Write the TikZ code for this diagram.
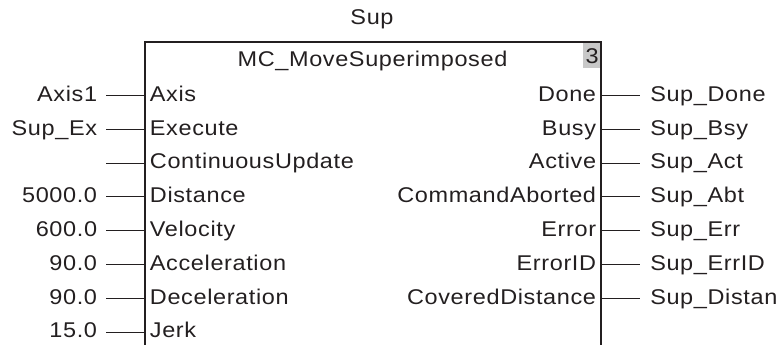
\documentclass[tikz,border=0pt]{standalone}
\usepackage{fontspec}
\setmainfont{Liberation Sans}[FakeStretch=1.1,LetterSpace=3]
\usepackage{tikz}
\usepackage{xcolor}
\definecolor{ink}{HTML}{231F20}
\definecolor{pingray}{HTML}{C8C8C8}
\tikzset{
  fbline/.style={draw=ink,line width=0.8pt},
  pinline/.style={draw=ink,line width=0.8pt},
  pintext/.style={inner ysep=0pt,text height=11.2pt,text depth=2.6pt,text=ink,
                  font=\fontsize{16}{18}\selectfont},
  inpin/.style={pintext,anchor=west,inner xsep=3.5pt},
  outpin/.style={pintext,anchor=east,inner xsep=3.5pt},
  invar/.style={pintext,anchor=east,inner xsep=6.5pt},
  outvar/.style={pintext,anchor=west,inner xsep=7.5pt},
  label/.style={pintext,inner sep=0pt}
}

\begin{document}
\begin{tikzpicture}[x=0.75pt,y=-0.75pt]
    \path[use as bounding box] (0,0) rectangle (781,345);
    % function block
    \fill[pingray] (583,42) rectangle (601,68);
    \draw[fbline] (145,345) -- (145,42) -- (601,42) -- (601,345);
    \node[label] (inst) at (372,19) {Sup};
    \node[label] (fbname) at (372.5,61) {MC\_MoveSuperimposed};
    \node[label,anchor=east] (fbno) at (599,58) {3};

    % inputs
    \node[inpin] (axis) at (145,95.5) {Axis};
    \node[inpin] (exec) at (145,129.3) {Execute};
    \node[inpin] (cont) at (145,163.1) {ContinuousUpdate};
    \node[inpin] (dist) at (145,196.9) {Distance};
    \node[inpin] (vel) at (145,230.7) {Velocity};
    \node[inpin] (acc) at (145,264.5) {Acceleration};
    \node[inpin] (dec) at (145,298.3) {Deceleration};
    \node[inpin] (jerk) at (145,332.1) {Jerk};

    \node[invar] (axisv) at (106,95.5) {Axis1};
    \node[invar] (execv) at (106,129.3) {Sup\_Ex};
    \node[invar] (contv) at (106,163.1) {};
    \node[invar] (distv) at (106,196.9) {5000.0};
    \node[invar] (velv) at (106,230.7) {600.0};
    \node[invar] (accv) at (106,264.5) {90.0};
    \node[invar] (decv) at (106,298.3) {90.0};
    \node[invar] (jerkv) at (106,332.1) {15.0};

    \draw[pinline] (axisv.east) -- (axis.west);
    \draw[pinline] (execv.east) -- (exec.west);
    \draw[pinline] (contv.east) -- (cont.west);
    \draw[pinline] (distv.east) -- (dist.west);
    \draw[pinline] (velv.east) -- (vel.west);
    \draw[pinline] (accv.east) -- (acc.west);
    \draw[pinline] (decv.east) -- (dec.west);
    \draw[pinline] (jerkv.east) -- (jerk.west);

    % outputs
    \node[outpin] (done) at (601,95.5) {Done};
    \node[outpin] (busy) at (601,129.3) {Busy};
    \node[outpin] (act) at (601,163.1) {Active};
    \node[outpin] (abt) at (601,196.9) {CommandAborted};
    \node[outpin] (err) at (601,230.7) {Error};
    \node[outpin] (errid) at (601,264.5) {ErrorID};
    \node[outpin] (cov) at (601,298.3) {CoveredDistance};

    \node[outvar] (donev) at (640,95.5) {Sup\_Done};
    \node[outvar] (busyv) at (640,129.3) {Sup\_Bsy};
    \node[outvar] (actv) at (640,163.1) {Sup\_Act};
    \node[outvar] (abtv) at (640,196.9) {Sup\_Abt};
    \node[outvar] (errv) at (640,230.7) {Sup\_Err};
    \node[outvar] (erridv) at (640,264.5) {Sup\_ErrID};
    \node[outvar] (covv) at (640,298.3) {Sup\_Distan};

    \draw[pinline] (done.east) -- (donev.west);
    \draw[pinline] (busy.east) -- (busyv.west);
    \draw[pinline] (act.east) -- (actv.west);
    \draw[pinline] (abt.east) -- (abtv.west);
    \draw[pinline] (err.east) -- (errv.west);
    \draw[pinline] (errid.east) -- (erridv.west);
    \draw[pinline] (cov.east) -- (covv.west);
  \end{tikzpicture}
\end{document}
